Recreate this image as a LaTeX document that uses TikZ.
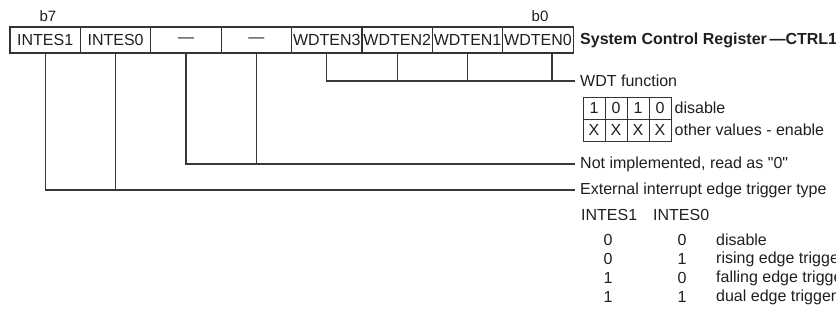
\documentclass[tikz,border=0pt]{standalone}
\usepackage{fontspec}
\setmainfont{Liberation Sans}[Ligatures=TeXOff]
\begin{document}
\begin{tikzpicture}[x=1pt,y=-1pt,
  every node/.style={text=black!88, font=\fontsize{16}{18}\selectfont},
  cell/.style={draw=black!80, line width=1.2pt, rectangle, minimum width=70.4pt, minimum height=26pt, inner sep=0pt},
  bitlbl/.style={inner sep=0pt, font=\fontsize{15}{17}\selectfont},
  lbl/.style={anchor=west, inner xsep=5pt, inner ysep=0pt},
  tcell/.style={draw=black!80, line width=1pt, rectangle, minimum width=22pt, minimum height=22pt, inner sep=0pt},
  conn/.style={draw=black!78, line width=1.2pt},
  plain/.style={inner sep=0pt}
]
\useasboundingbox (0,0) rectangle (836,325);
% register cells
\node[cell] (c7) at (45.2,40) {INTES1};
\node[cell] (c6) at (115.6,40) {INTES0};
\node[cell] (c5) at (186.0,40) {—};
\node[cell] (c4) at (256.4,40) {—};
\node[cell] (c3) at (326.8,40) {WDTEN3};
\node[cell] (c2) at (397.2,40) {WDTEN2};
\node[cell] (c1) at (467.6,40) {WDTEN1};
\node[cell] (c0) at (538.0,40) {WDTEN0};
\node[bitlbl] (b7) at (48,16) {b7};
\node[bitlbl] (b0) at (540,16) {b0};
\node[lbl] (title) at (575,40) {\textbf{System Control Register\,—CTRL1}};
% labels
\node[lbl] (wdt) at (575,81) {WDT function};
\node[lbl] (notimp) at (575,164) {Not implemented, read as "0"};
\node[lbl] (ext) at (575,190) {External interrupt edge trigger type};
% WDT table
\node[tcell] (t11) at (594,108) {1};
\node[tcell] (t12) at (616,108) {0};
\node[tcell] (t13) at (638,108) {1};
\node[tcell] (t14) at (660,108) {0};
\node[tcell] (t21) at (594,130) {X};
\node[tcell] (t22) at (616,130) {X};
\node[tcell] (t23) at (638,130) {X};
\node[tcell] (t24) at (660,130) {X};
\node[plain, anchor=west] (dis) at ([xshift=3pt]t14.east) {disable};
\node[plain, anchor=west] (oth) at ([xshift=3pt]t24.east) {other values - enable};
% INTES table
\node[plain, anchor=west] (h1) at (581,215) {INTES1};
\node[plain, anchor=west] (h0) at (653,215) {INTES0};
\node[plain] (r11) at (608,240) {0};
\node[plain] (r12) at (682,240) {0};
\node[plain, anchor=west] (r13) at (716,240) {disable};
\node[plain] (r21) at (608,259) {0};
\node[plain] (r22) at (682,259) {1};
\node[plain, anchor=west] (r23) at (716,259) {rising edge trigger};
\node[plain] (r31) at (608,278) {1};
\node[plain] (r32) at (682,278) {0};
\node[plain, anchor=west] (r33) at (716,278) {falling edge trigger};
\node[plain] (r41) at (608,297) {1};
\node[plain] (r42) at (682,297) {1};
\node[plain, anchor=west] (r43) at (716,297) {dual edge trigger};
% connectors
\coordinate (w0) at ([xshift=14pt]c0.south);
\draw[conn] (c3.south) -- (c3.south |- wdt.west) -- (wdt.west);
\draw[conn] (c2.south) -- (c2.south |- wdt.west);
\draw[conn] (c1.south) -- (c1.south |- wdt.west);
\draw[conn] (w0) -- (w0 |- wdt.west);
\draw[conn] (c5.south) -- (c5.south |- notimp.west) -- (notimp.west);
\draw[conn] (c4.south) -- (c4.south |- notimp.west);
\draw[conn] (c7.south) -- (c7.south |- ext.west) -- (ext.west);
\draw[conn] (c6.south) -- (c6.south |- ext.west);
\end{tikzpicture}
\end{document}
